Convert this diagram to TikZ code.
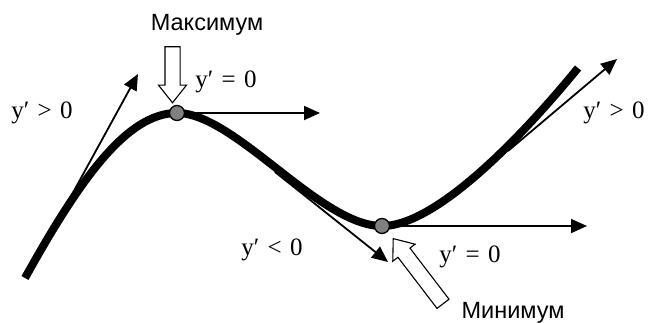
\documentclass[tikz,border=0pt]{standalone}
\usepackage{fontspec}
\setmainfont{Liberation Serif}
\newfontfamily\arialfont{Liberation Sans}
\usetikzlibrary{arrows.meta,shapes.arrows}
\definecolor{ptgray}{RGB}{128,128,128}
\newcommand{\relsp}{\hspace{0.33em}}
\begin{document}
\begin{tikzpicture}[x=1pt,y=-1pt,
  curve/.style={line width=8pt},
  tangent/.style={line width=1.8pt,-{Triangle[length=16pt,width=14pt]}},
  pnt/.style={circle,draw=black,line width=1.3pt,fill=ptgray,minimum size=15pt,inner sep=0pt},
  hollow/.style={single arrow,draw=black,line width=1.1pt,fill=white,inner sep=0pt,inner ysep=7pt,
    single arrow head extend=6.5pt,single arrow tip angle=77},
  lbl/.style={font=\fontsize{25}{28}\selectfont,inner sep=0pt,anchor=base},
  word/.style={font=\arialfont\fontsize{23.5}{26}\selectfont,inner sep=0pt,anchor=base}
]
\useasboundingbox (0,0) rectangle (648,322);
% key points
\coordinate (cstart) at (25,278);
\coordinate (maxc) at (177,113);
\coordinate (minc) at (382,226);
\coordinate (cend) at (578,68);
% the curve
\draw[curve] (cstart) .. controls (80,179) and (127,113) .. (maxc)
  .. controls (235,113) and (320,226) .. (minc)
  .. controls (442,226) and (538,117) .. (cend);
% tangents
\coordinate (t1s) at (64,209);
\coordinate (t1e) at (138,74);
\draw[tangent] (t1s) -- (t1e);
\coordinate (t2s) at (275,172);
\coordinate (t2e) at (388,262);
\draw[tangent] (t2s) -- (t2e);
\coordinate (t3s) at (508,151);
\coordinate (t3e) at (617,59);
\draw[tangent] (t3s) -- (t3e);
\coordinate (h1e) at (320,113);
\draw[tangent] (maxc) -- (h1e);
\coordinate (h2e) at (587,226);
\draw[tangent] (minc) -- (h2e);
% extremum points
\node[pnt] (maxpt) at (maxc) {};
\node[pnt] (minpt) at (minc) {};
% hollow arrows
\node[hollow,minimum height=56pt,rotate=-90] (maxarrow) at (172.5,70) {};
\node[hollow,minimum height=82pt,rotate=127.4] (minarrow) at (421,275) {};
% labels
\node[word] (maxlbl) at (207,30) {Максимум};
\node[word] (minlbl) at (513,318) {Минимум};
\node[lbl] (l1) at (42,118) {y′\relsp>\relsp0};
\node[lbl] (l2) at (226,87) {y′\relsp=\relsp0};
\node[lbl] (l3) at (614,118) {y′\relsp>\relsp0};
\node[lbl] (l4) at (272,255) {y′\relsp<\relsp0};
\node[lbl] (l5) at (470,262) {y′\relsp=\relsp0};
\end{tikzpicture}
\end{document}
